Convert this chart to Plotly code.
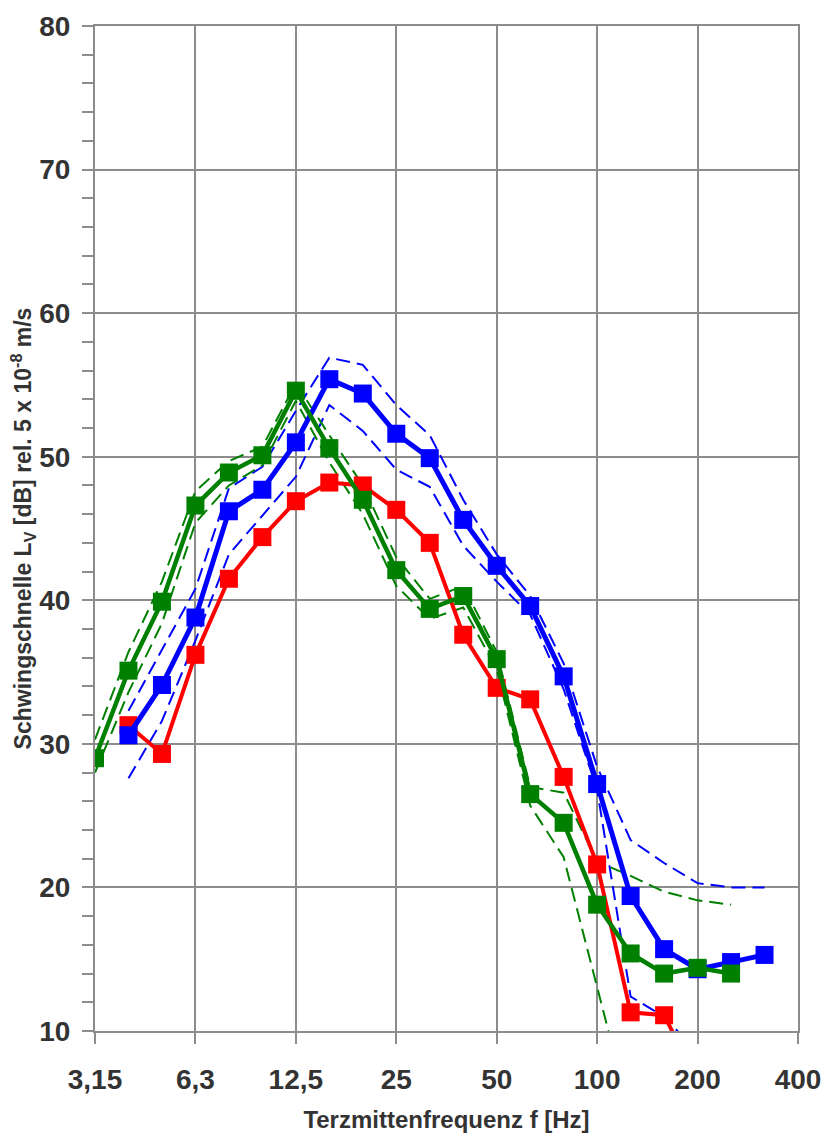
import plotly.graph_objects as go

# Third-octave band centre frequencies (labels as printed on the axis)
bands = ["3,15", "4", "5", "6,3", "8", "10", "12,5", "16", "20", "25", "31,5",
         "40", "50", "63", "80", "100", "125", "160", "200", "250", "315", "400"]
tick_bands = ["3,15", "6,3", "12,5", "25", "50", "100", "200", "400"]

# Vibration velocity level per band in dB (None = no value)
red = [None, 31.3, 29.3, 36.2, 41.5, 44.4, 46.9, 48.2, 48.0, 46.3, 44.0,
       37.6, 33.9, 33.1, 27.7, 21.6, 11.3, 11.1, 6.5, None, None, None]
blue = [None, 30.6, 34.1, 38.8, 46.2, 47.7, 51.0, 55.4, 54.4, 51.6, 49.9,
        45.6, 42.4, 39.6, 34.7, 27.2, 19.4, 15.7, 14.3, 14.8, 15.3, None]
green = [29.0, 35.1, 39.9, 46.6, 48.9, 50.1, 54.6, 50.6, 47.0, 42.1, 39.4,
         40.3, 35.9, 26.5, 24.5, 18.8, 15.4, 14.0, 14.4, 14.0, None, None]

# Upper / lower bounds drawn as dashed lines
blue_upper = [None, 32.3, 36.5, 40.8, 47.8, 49.3, 53.2, 56.9, 56.4, 53.6, 51.5,
              47.0, 43.2, 40.3, 35.6, 28.4, 23.3, 21.7, 20.3, 20.0, 20.0, None]
blue_lower = [None, 27.6, 31.6, 37.2, 43.2, 45.9, 48.6, 53.6, 51.8, 49.1, 47.9,
              43.8, 41.3, 39.0, 33.8, 26.8, 12.4, 11.0, 8.5, None, None, None]
green_upper = [30.3, 36.4, 41.3, 47.6, 49.7, 50.7, 55.1, 51.5, 48.0, 43.0, 40.1,
               41.0, 36.4, 27.0, 26.6, 21.8, 20.8, 19.7, 19.1, 18.8, None, None]
green_lower = [28.0, 33.6, 38.4, 45.4, 48.0, 49.4, 53.9, 49.6, 46.0, 41.0, 38.7,
               39.5, 35.2, 25.7, 22.1, 13.2, 4.0, None, None, None, None, None]

BLUE = "#0000FF"
RED = "#FF0000"
GREEN = "#008000"
GRID = "#8c8c8c"
TEXT = "#333333"
FONT = "Liberation Sans, Arial, sans-serif"

xpos = list(range(len(bands)))

fig = go.Figure()

for vals, col in [(blue_upper, BLUE), (blue_lower, BLUE),
                  (green_upper, GREEN), (green_lower, GREEN)]:
    fig.add_trace(go.Scatter(
        x=xpos, y=vals, mode="lines",
        line=dict(color=col, width=2, dash="14px,7px"),
        hoverinfo="skip"))

for vals, col, w in [(red, RED, 4), (blue, BLUE, 5), (green, GREEN, 4.5)]:
    fig.add_trace(go.Scatter(
        x=xpos, y=vals, mode="lines+markers",
        line=dict(color=col, width=w),
        marker=dict(symbol="square", size=18, color=col, line=dict(width=0))))

fig.update_layout(
    width=826, height=1133,
    margin=dict(l=95, r=28, t=26, b=102, autoexpand=False),
    plot_bgcolor="white", paper_bgcolor="white",
    showlegend=False,
    font=dict(family=FONT, color=TEXT),
    xaxis=dict(
        automargin=False,
        range=[0, len(bands) - 1],
        tickmode="array",
        tickvals=[bands.index(b) for b in tick_bands],
        ticktext=tick_bands,
        showgrid=True, gridcolor=GRID, gridwidth=2,
        showline=True, linecolor=GRID, linewidth=2, mirror=True,
        ticks="outside", ticklen=11, tickwidth=2, tickcolor=GRID,
        tickfont=dict(size=28, weight="bold", color=TEXT, family=FONT),
        ticklabelstandoff=11,
        zeroline=False,
        title=dict(text="Terzmittenfrequenz f [Hz]",
                   font=dict(size=24, weight="bold", color=TEXT, family=FONT),
                   standoff=20),
    ),
    yaxis=dict(
        automargin=False,
        range=[10, 80], tickmode="linear", tick0=10, dtick=10,
        showgrid=True, gridcolor=GRID, gridwidth=2,
        showline=True, linecolor=GRID, linewidth=2, mirror=True,
        ticks="outside", ticklen=11, tickwidth=2, tickcolor=GRID,
        minor=dict(tickmode="linear", tick0=10, dtick=2, ticks="outside",
                   ticklen=11, tickwidth=2, tickcolor=GRID, showgrid=False),
        tickfont=dict(size=28, weight="bold", color=TEXT, family=FONT),
        ticklabelstandoff=6,
        zeroline=False,
        title=dict(text="Schwingschnelle L<sub>V</sub> [dB] rel. 5 x 10<sup>-8</sup> m/s",
                   font=dict(size=23, weight="bold", color=TEXT, family=FONT),
                   standoff=1),
    ),
    yaxis2=dict(
        automargin=False,
        overlaying="y", anchor="x", side="left",
        range=[10, 80], tickmode="linear", tick0=10, dtick=2,
        ticks="inside", ticklen=5, tickwidth=2, tickcolor=GRID,
        showticklabels=False, showgrid=False, showline=False, zeroline=False,
    ),
)

fig.write_html("out.html")
